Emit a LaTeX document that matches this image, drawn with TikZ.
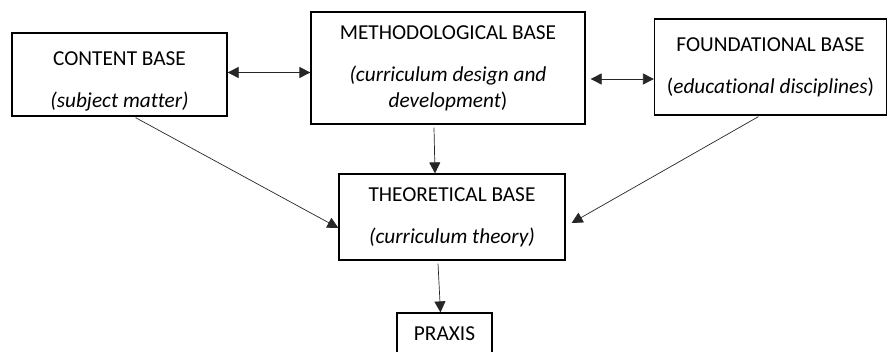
\documentclass[tikz,border=0pt]{standalone}
\usepackage{fontspec}
\setmainfont{Carlito}[Ligatures=NoCommon]
\usetikzlibrary{arrows.meta}

\begin{document}
\begin{tikzpicture}[x=1pt,y=-1pt,
        base/.style={draw, black, line width=1.2pt, rectangle, inner sep=0pt, align=center,
            font=\fontsize{21.3}{26}\selectfont},
        link/.style={line width=0.7pt, black!85, -{Triangle[length=11pt,width=11pt]}},
        twoway/.style={line width=0.7pt, black!85, {Triangle[length=11pt,width=11pt]}-{Triangle[length=11pt,width=11pt]}}]
    \useasboundingbox (0,0) rectangle (888,352);
    % the three bases on top
    \node[base, minimum width=215pt, minimum height=83pt] (content) at (119.5,74.5)
        {\rule{0pt}{28pt}CONTENT BASE\\[16pt]\textit{(subject matter)}};
    \node[base, minimum width=274pt, minimum height=112pt] (method) at (448,68)
        {METHODOLOGICAL BASE\\[16pt]\textit{(curriculum design and}\\\textit{development})};
    \node[base, minimum width=232pt, minimum height=96pt] (found) at (770.5,67)
        {FOUNDATIONAL BASE\\[16pt](\textit{educational disciplines})};
    % theory and praxis below
    \node[base, minimum width=226pt, minimum height=86pt] (theory) at (452,217)
        {THEORETICAL BASE\\[16pt]\textit{(curriculum theory)}};
    \node[base, minimum width=95pt, minimum height=42pt] (praxis) at (444.5,334)
        {PRAXIS};
    % connectors
    \coordinate (cm) at ([yshift=2pt]content.east);
    \draw[twoway] (cm) -- (cm -| method.west);
    \coordinate (mf) at ([xshift=5pt,yshift=-11pt]method.east);
    \draw[twoway] (mf) -- (mf -| found.west);
    \draw[link] ([xshift=-14pt,yshift=-3pt]method.south) -- ([xshift=-17pt]theory.north);
    \draw[link] ([xshift=16pt,yshift=-1pt]content.south) -- ([yshift=-11pt]theory.west);
    \draw[link] ([xshift=-12pt,yshift=-1pt]found.south) -- ([xshift=6pt,yshift=-6pt]theory.east);
    \draw[link] ([xshift=-14pt,yshift=-3pt]theory.south) -- ([xshift=-4pt]praxis.north);
\end{tikzpicture}
\end{document}
